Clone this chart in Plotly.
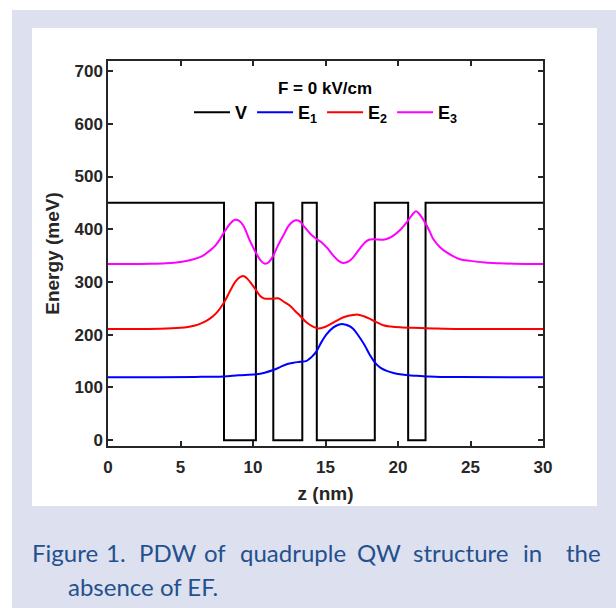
import plotly.graph_objects as go

# ---------------- data ----------------
V_z = [0, 8.0, 10.2, 11.4, 13.4, 14.4, 18.4, 20.7, 21.9, 30]
V_vals = [450, 0, 450, 0, 450, 0, 450, 0, 450, 450]

E1_z = [0, 3.6, 6.0, 7.95, 9.0, 10.25, 10.8, 11.4, 11.9, 12.32, 12.8, 13.24, 13.7, 14.05, 14.39, 14.7,
        15.08, 15.5, 15.9, 16.23, 16.6, 16.92, 17.3, 17.72, 18.05, 18.41, 18.8, 19.22, 19.7, 20.14,
        20.7, 21.29, 22.0, 22.9, 24.3, 30]
E1_vals = [119.5, 119.5, 120, 121, 123, 125, 128, 133, 139, 144, 147, 148.6, 150.5, 158, 169, 185,
           201, 213, 219, 220, 217, 211, 197, 179, 162, 147, 137, 131.5, 127.5, 125,
           123, 122, 121, 120, 119.7, 119.5]

E2_z = [0, 3.6, 5.0, 5.5, 6.0, 6.5, 7.0, 7.5, 8.0, 8.4, 8.8, 9.1, 9.38, 9.65, 9.91, 10.2, 10.48,
        10.75, 11.06, 11.4, 11.74, 12.1, 12.55, 12.9, 13.24, 13.7, 14.1, 14.5, 15.0, 15.54, 16.0,
        16.46, 16.9, 17.26, 17.65, 18.07, 18.5, 18.99, 19.5, 20.14, 21.0, 21.98, 24.3, 30]
E2_vals = [211, 211.5, 213, 214.5, 217.5, 222.5, 230, 242, 261, 282, 301, 309, 311, 305, 296, 285, 274,
           269, 268, 268.5, 269, 263, 255, 245, 236, 223, 216, 212, 215, 223, 230,
           235, 237.5, 238, 235, 230, 224, 218, 215.5, 214, 213, 212.5, 211, 211]

E3_z = [0, 3.0, 4.0, 5.0, 5.9, 6.5, 7.0, 7.4, 7.72, 8.07, 8.4, 8.76, 9.05, 9.33, 9.79, 10.25, 10.55,
        10.83, 11.1, 11.4, 11.7, 12.09, 12.5, 12.94, 13.24, 13.47, 14.0, 14.4, 14.74, 15.1, 15.54,
        15.9, 16.23, 16.6, 16.92, 17.3, 17.72, 18.0, 18.3, 18.65, 18.99, 19.35, 19.68, 20.2, 20.6,
        21.0, 21.24, 21.5, 21.86, 22.2, 22.44, 22.9, 23.36, 24.28, 25.0, 26.0, 27.0, 28.0, 30]
E3_vals = [334, 334.5, 335.5, 338, 343, 349, 359, 369, 381, 397, 410, 418, 416, 407, 378, 353, 340,
           334.5, 338, 350, 368, 388, 408, 417, 415, 407, 390, 381, 375, 365, 350,
           340, 336, 339, 347, 361, 375, 380, 381, 380.5, 380, 383, 388, 400, 413,
           428, 434, 428, 413, 395, 381, 366, 356, 343, 340, 337, 335.5, 334.5, 334]

x_ticks = [0, 5, 10, 15, 20, 25, 30]
y_ticks = [0, 100, 200, 300, 400, 500, 600, 700]

legend_title = "F = 0 kV/cm"
caption_line1 = ["Figure", "1.", "PDW", "of", "quadruple", "QW", "structure", "in", "the"]
caption_line2 = "absence of EF."

# ---------------- figure ----------------
W, H = 616, 608
FONT = "Liberation Sans"
AX = "#262626"

fig = go.Figure()
fig.add_trace(go.Scatter(x=V_z, y=V_vals, mode="lines", line=dict(color="black", width=2, shape="hv"),
                         name="V"))
fig.add_trace(go.Scatter(x=E1_z, y=E1_vals, mode="lines", line=dict(color="#0000ff", width=2, shape="spline"),
                         name="E<sub>1</sub>"))
fig.add_trace(go.Scatter(x=E2_z, y=E2_vals, mode="lines", line=dict(color="#ff0000", width=2, shape="spline"),
                         name="E<sub>2</sub>"))
fig.add_trace(go.Scatter(x=E3_z, y=E3_vals, mode="lines", line=dict(color="#ff00ff", width=2, shape="spline"),
                         name="E<sub>3</sub>"))

L, R, T, B = 108, 543, 61, 446
fig.update_layout(
    width=W, height=H,
    margin=dict(l=L, r=W - R, t=T, b=H - B, pad=0),
    paper_bgcolor="white", plot_bgcolor="white",
    showlegend=True,
    legend=dict(orientation="h", x=(189 - L) / (R - L), xanchor="left",
                y=1 - (94 - T) / (B - T), yanchor="top",
                font=dict(family=FONT, size=18, color="black", weight="bold"),
                bgcolor="rgba(0,0,0,0)", borderwidth=0, tracegroupgap=0, itemwidth=36),
    xaxis=dict(range=[0, 30], tickvals=x_ticks, ticks="inside", ticklen=5, tickwidth=1.5,
               tickcolor=AX, showline=True, linecolor=AX, linewidth=1.5, mirror="ticks",
               showgrid=False, zeroline=False, ticklabelstandoff=5,
               tickfont=dict(family=FONT, size=17, color=AX, weight="bold"),
               title=dict(text="z (nm)", font=dict(family=FONT, size=19, color=AX, weight="bold"),
                          standoff=11)),
    yaxis=dict(range=[-11, 719], tickvals=y_ticks, ticks="inside", ticklen=5, tickwidth=1.5,
               tickcolor=AX, showline=True, linecolor=AX, linewidth=1.5, mirror="ticks",
               showgrid=False, zeroline=False,
               tickfont=dict(family=FONT, size=17, color=AX, weight="bold"),
               title=dict(text="Energy (meV)", font=dict(family=FONT, size=19, color=AX, weight="bold"),
                          standoff=10)),
)

# background panels (pixel coords converted to paper)
def px(x):
    return (x - L) / (R - L)

def py(y):
    return 1 - (y - T) / (B - T)

fig.add_shape(type="rect", xref="paper", yref="paper", x0=px(12), x1=px(W + 5), y0=py(H + 5), y1=py(10),
              fillcolor="#dde0ee", line_width=0, layer="below")
fig.add_shape(type="rect", xref="paper", yref="paper", x0=px(32), x1=px(597), y0=py(506), y1=py(28),
              fillcolor="white", line_width=0, layer="below")

fig.add_annotation(text=legend_title, xref="paper", yref="paper", x=px(325), y=py(88),
                   xanchor="center", yanchor="middle",
                   showarrow=False, font=dict(family=FONT, size=17, color="black", weight="bold"))

# caption (justified line 1 by word placement)
cap_font = dict(family="Lato", size=24, color="#24508e")
cap_y1, cap_y2 = 552, 586
centers = [None, 116, 167, 215, 293, 379, 460, 532, None]
for i, w in enumerate(caption_line1):
    if i == 0:
        x, anchor = 30, "left"
    elif i == len(caption_line1) - 1:
        x, anchor = 603, "right"
    else:
        x, anchor = centers[i], "center"
    fig.add_annotation(text=w, xref="paper", yref="paper", x=px(x), y=py(cap_y1), xanchor=anchor,
                       yanchor="middle", showarrow=False, font=cap_font)
fig.add_annotation(text=caption_line2, xref="paper", yref="paper", x=px(66), y=py(cap_y2), xanchor="left",
                   yanchor="middle", showarrow=False, font=cap_font)

fig.write_html("out.html")
